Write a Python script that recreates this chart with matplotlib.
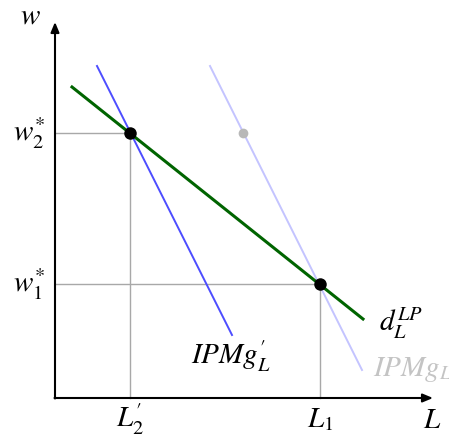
import matplotlib.pyplot as plt

plt.rcParams['mathtext.fontset'] = 'stix'
plt.rcParams['font.family'] = 'STIXGeneral'

# equilibrium values (arbitrary units)
L_star = [3.0, 10.6]      # L2', L1
w_star = [10.6, 4.56]     # w2*, w1*

# labour demand d_L^LP
dL_x = [0.68, 12.32]
dL_w = [12.44, 3.16]

# new marginal revenue product IPMg'_L
ipm_new_x = [1.68, 7.08]
ipm_new_w = [13.28, 2.52]

# original IPMg_L (faded)
ipm_old_x = [6.2, 12.28]
ipm_old_w = [13.28, 1.12]

# faded point on the old curve
ghost_x = [7.52]
ghost_w = [10.6]

fig = plt.figure(figsize=(4.49, 4.37), dpi=100)
ax = fig.add_axes([0, 0, 1, 1])
ax.set_xlim(-2.2, 15.76)
ax.set_ylim(-1.56, 15.92)
ax.axis('off')

# guide lines
ax.plot([L_star[0], L_star[0], 0], [0, w_star[0], w_star[0]], color='#a8a8a8', lw=1.0, zorder=1)
ax.plot([L_star[1], L_star[1], 0], [0, w_star[1], w_star[1]], color='#a8a8a8', lw=1.0, zorder=1)

# curves
ax.plot(ipm_old_x, ipm_old_w, color='#c4c4ff', lw=1.4, zorder=2)
ax.plot(ipm_new_x, ipm_new_w, color='#4d4dff', lw=1.4, zorder=3)
ax.plot(dL_x, dL_w, color='#006400', lw=2.2, zorder=4)

# points
ax.plot(ghost_x, ghost_w, 'o', color='#b8b8b8', ms=7, mec='none', zorder=5)
ax.plot(L_star, w_star, 'o', color='black', ms=9, mec='none', zorder=6)

# axes with arrows
arrow = dict(arrowstyle='-|>,head_length=0.6,head_width=0.25', color='black', lw=1.5, shrinkA=0, shrinkB=0)
ax.annotate('', xy=(15.12, 0), xytext=(-0.02, 0), arrowprops=arrow)
ax.annotate('', xy=(0, 15.04), xytext=(0, -0.02), arrowprops=arrow)

fs = 21
ax.text(-1.0, 15.25, r'$w$', fontsize=fs, ha='center', va='center')
ax.text(15.1, -0.95, r'$L$', fontsize=fs, ha='center', va='center')
ax.text(-1.05, w_star[0], r'$w_2^{*}$', fontsize=fs, ha='center', va='center')
ax.text(-1.05, w_star[1], r'$w_1^{*}$', fontsize=fs, ha='center', va='center')
ax.text(L_star[0], -0.85, r"$L_2^{\prime}$", fontsize=fs, ha='center', va='center')
ax.text(L_star[1], -0.85, r'$L_1$', fontsize=fs, ha='center', va='center')
ax.text(13.85, 3.0, r'$d_L^{LP}$', fontsize=fs, ha='center', va='center')
ax.text(7.05, 1.65, r"$IPMg_L^{\prime}$", fontsize=fs, ha='center', va='center')
ax.text(12.72, 1.15, r'$IPMg_L$', fontsize=fs, ha='left', va='center', color='#c4c4c4')

fig.savefig('out.png', dpi=100)
